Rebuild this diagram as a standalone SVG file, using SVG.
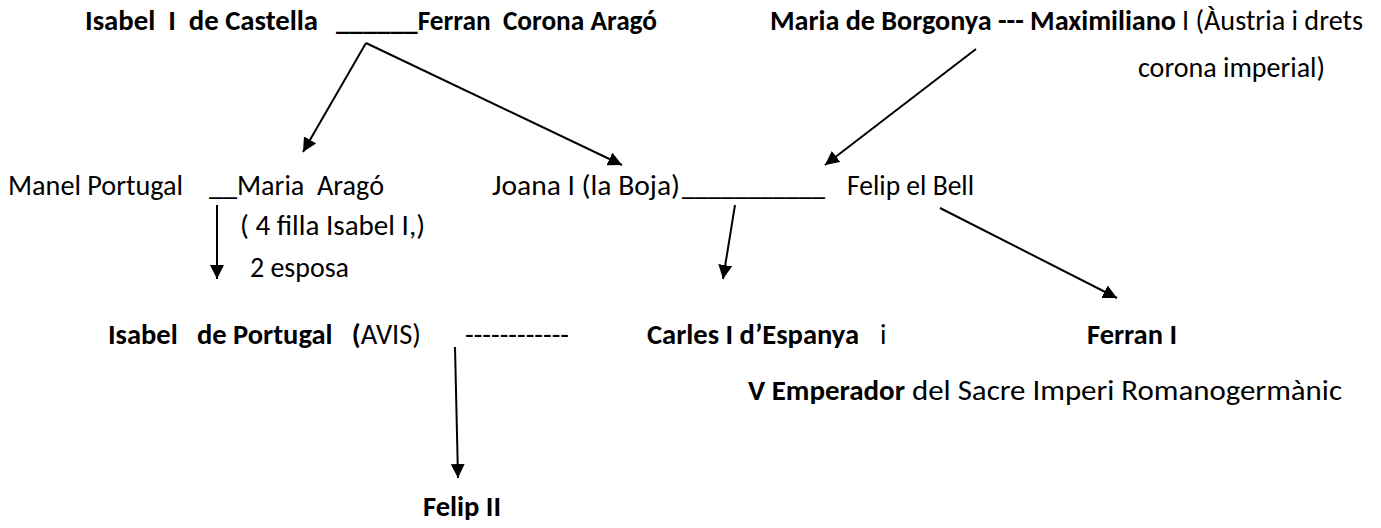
<svg xmlns="http://www.w3.org/2000/svg" width="1381" height="528" viewBox="0 0 1381 528">
<style>
text{font-family:Carlito,Calibri,Lato,"Liberation Sans",sans-serif;font-size:28px;fill:#000;white-space:pre}
.b{font-weight:bold}
.c{stroke:#000;stroke-width:2;fill:none;marker-end:url(#ah)}
</style>
<defs>
<marker id="ah" markerUnits="userSpaceOnUse" markerWidth="14" markerHeight="14" refX="14" refY="7" orient="auto"><path d="M0,0 L14,7 L0,14 z" fill="#000"/></marker>
</defs>
<rect width="1381" height="528" fill="#fff"/>
<g id="isabel-ferran">
<text class="b" x="85" y="30" textLength="233" lengthAdjust="spacingAndGlyphs">Isabel  I  de Castella</text>
<text class="b" x="336" y="30" textLength="321" lengthAdjust="spacingAndGlyphs">______Ferran  Corona Aragó</text>
</g>
<g id="maria-maximiliano">
<text class="b" x="770" y="30" textLength="406" lengthAdjust="spacingAndGlyphs">Maria de Borgonya --- Maximiliano</text>
<text x="1182" y="30" textLength="181" lengthAdjust="spacingAndGlyphs">I (Àustria i drets</text>
<text x="1138" y="77" textLength="187" lengthAdjust="spacingAndGlyphs">corona imperial)</text>
</g>
<g id="manel-maria">
<text x="8" y="195" textLength="175" lengthAdjust="spacingAndGlyphs">Manel Portugal</text>
<text x="209" y="195" textLength="175" lengthAdjust="spacingAndGlyphs">__Maria  Aragó</text>
<text x="240" y="235" textLength="185" lengthAdjust="spacingAndGlyphs">( 4 filla Isabel I,)</text>
<text x="250" y="277" textLength="99" lengthAdjust="spacingAndGlyphs">2 esposa</text>
</g>
<g id="joana-felip">
<text x="492" y="195" textLength="188" lengthAdjust="spacingAndGlyphs">Joana I (la Boja)</text>
<text x="682" y="195" textLength="143" lengthAdjust="spacingAndGlyphs">___________</text>
<text x="847" y="195" textLength="127" lengthAdjust="spacingAndGlyphs">Felip el Bell</text>
</g>
<g id="isabel-portugal">
<text x="108" y="344" textLength="313" lengthAdjust="spacingAndGlyphs"><tspan class="b">Isabel   de Portugal   (</tspan>AVIS)</text>
<text x="465" y="344" textLength="104" lengthAdjust="spacingAndGlyphs">------------</text>
</g>
<g id="carles">
<text class="b" x="647" y="344" textLength="212" lengthAdjust="spacingAndGlyphs">Carles I d’Espanya</text>
<text x="880" y="344">i</text>
<text class="b" x="748" y="400" textLength="157" lengthAdjust="spacingAndGlyphs">V Emperador</text>
<text x="912" y="400" textLength="430" lengthAdjust="spacingAndGlyphs">del Sacre Imperi Romanogermànic</text>
</g>
<g id="ferran-i">
<text class="b" x="1087" y="344" textLength="90" lengthAdjust="spacingAndGlyphs">Ferran I</text>
</g>
<g id="felip-ii">
<text class="b" x="423" y="516" textLength="78" lengthAdjust="spacingAndGlyphs">Felip II</text>
</g>
<g id="connectors">
<path class="c" d="M366,43 L303,152"/>
<path class="c" d="M366,43 L622,165"/>
<path class="c" d="M976,49 L825,165"/>
<path class="c" d="M217,205 L217,279"/>
<path class="c" d="M735,205 L723,279"/>
<path class="c" d="M940,208 L1117,298"/>
<path class="c" d="M455,347 L458,478"/>
</g>
</svg>
